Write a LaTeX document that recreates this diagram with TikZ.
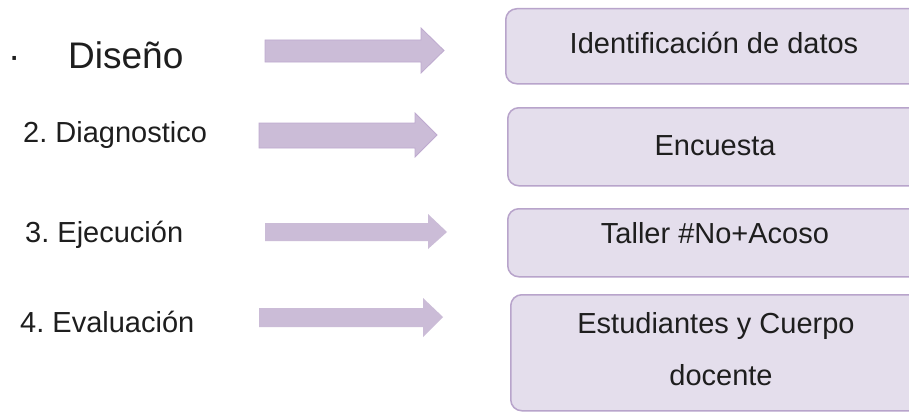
\documentclass[tikz,border=0pt]{standalone}
\usepackage{fontspec}
\setmainfont{Liberation Sans}
\frenchspacing
\definecolor{arrowfill}{HTML}{CBBCD7}
\definecolor{arrowline}{HTML}{BEAACF}
\definecolor{boxfill}{HTML}{E4DEEC}
\definecolor{boxline}{HTML}{B8A4CB}
\definecolor{ink}{HTML}{1E1E1E}
\begin{document}
\begin{tikzpicture}[x=1pt,y=-1pt,
  blockarrow/.style={fill=arrowfill,draw=arrowline,line width=0.8pt,line join=miter},
  stepbox/.style={draw=boxline,fill=boxfill,line width=1.5pt,rounded corners=11pt,anchor=north west,inner sep=0pt},
  lbl/.style={text=ink,inner sep=0pt,font=\fontsize{29}{34}\selectfont},
  big/.style={text=ink,inner sep=0pt,font=\fontsize{37}{42}\selectfont}]
\useasboundingbox (0,0) rectangle (909,412);
\clip (0,0) rectangle (909,412);
\fill[white] (0,0) rectangle (909,412);
% boxes
\node[stepbox,minimum width=425pt,minimum height=75pt] (b1) at (505,8) {};
\node[stepbox,minimum width=423pt,minimum height=78pt] (b2) at (507,107) {};
\node[stepbox,minimum width=423pt,minimum height=68pt] (b3) at (507,208) {};
\node[stepbox,minimum width=418pt,minimum height=116pt] (b4) at (510,294) {};
% box texts
\node[lbl,anchor=base] (t1) at (714,53) {Identificación de datos};
\node[lbl,anchor=base] (t2) at (715,155) {Encuesta};
\node[lbl,anchor=base] (t3) at (715,243) {Taller \#No+Acoso};
\node[lbl,anchor=base] (t4a) at (716,333) {Estudiantes y Cuerpo};
\node[lbl,anchor=base] (t4b) at (721,385) {docente};
% left labels
\node[big,anchor=base west] (dot) at (8,68) {·};
\node[big,anchor=base west] (s1) at (68,68) {Diseño};
\node[lbl,anchor=base west] (s2) at (23,142) {2. Diagnostico};
\node[lbl,anchor=base west] (s3) at (25,242) {3. Ejecución};
\node[lbl,anchor=base west] (s4) at (20,332) {4. Evaluación};
% block arrows
\draw[blockarrow] (265,40) -- (421,40) -- (421,28) -- (444,50.5) -- (421,73) -- (421,62) -- (265,62) -- cycle;
\draw[blockarrow] (259,123) -- (415,123) -- (415,113) -- (437,135) -- (415,157) -- (415,148) -- (259,148) -- cycle;
\fill[arrowfill] (265,223) -- (428,223) -- (428,214) -- (447,232) -- (428,249) -- (428,241) -- (265,241) -- cycle;
\fill[arrowfill] (259,308) -- (423,308) -- (423,298) -- (443,317) -- (423,337) -- (423,327) -- (259,327) -- cycle;
\end{tikzpicture}
\end{document}
